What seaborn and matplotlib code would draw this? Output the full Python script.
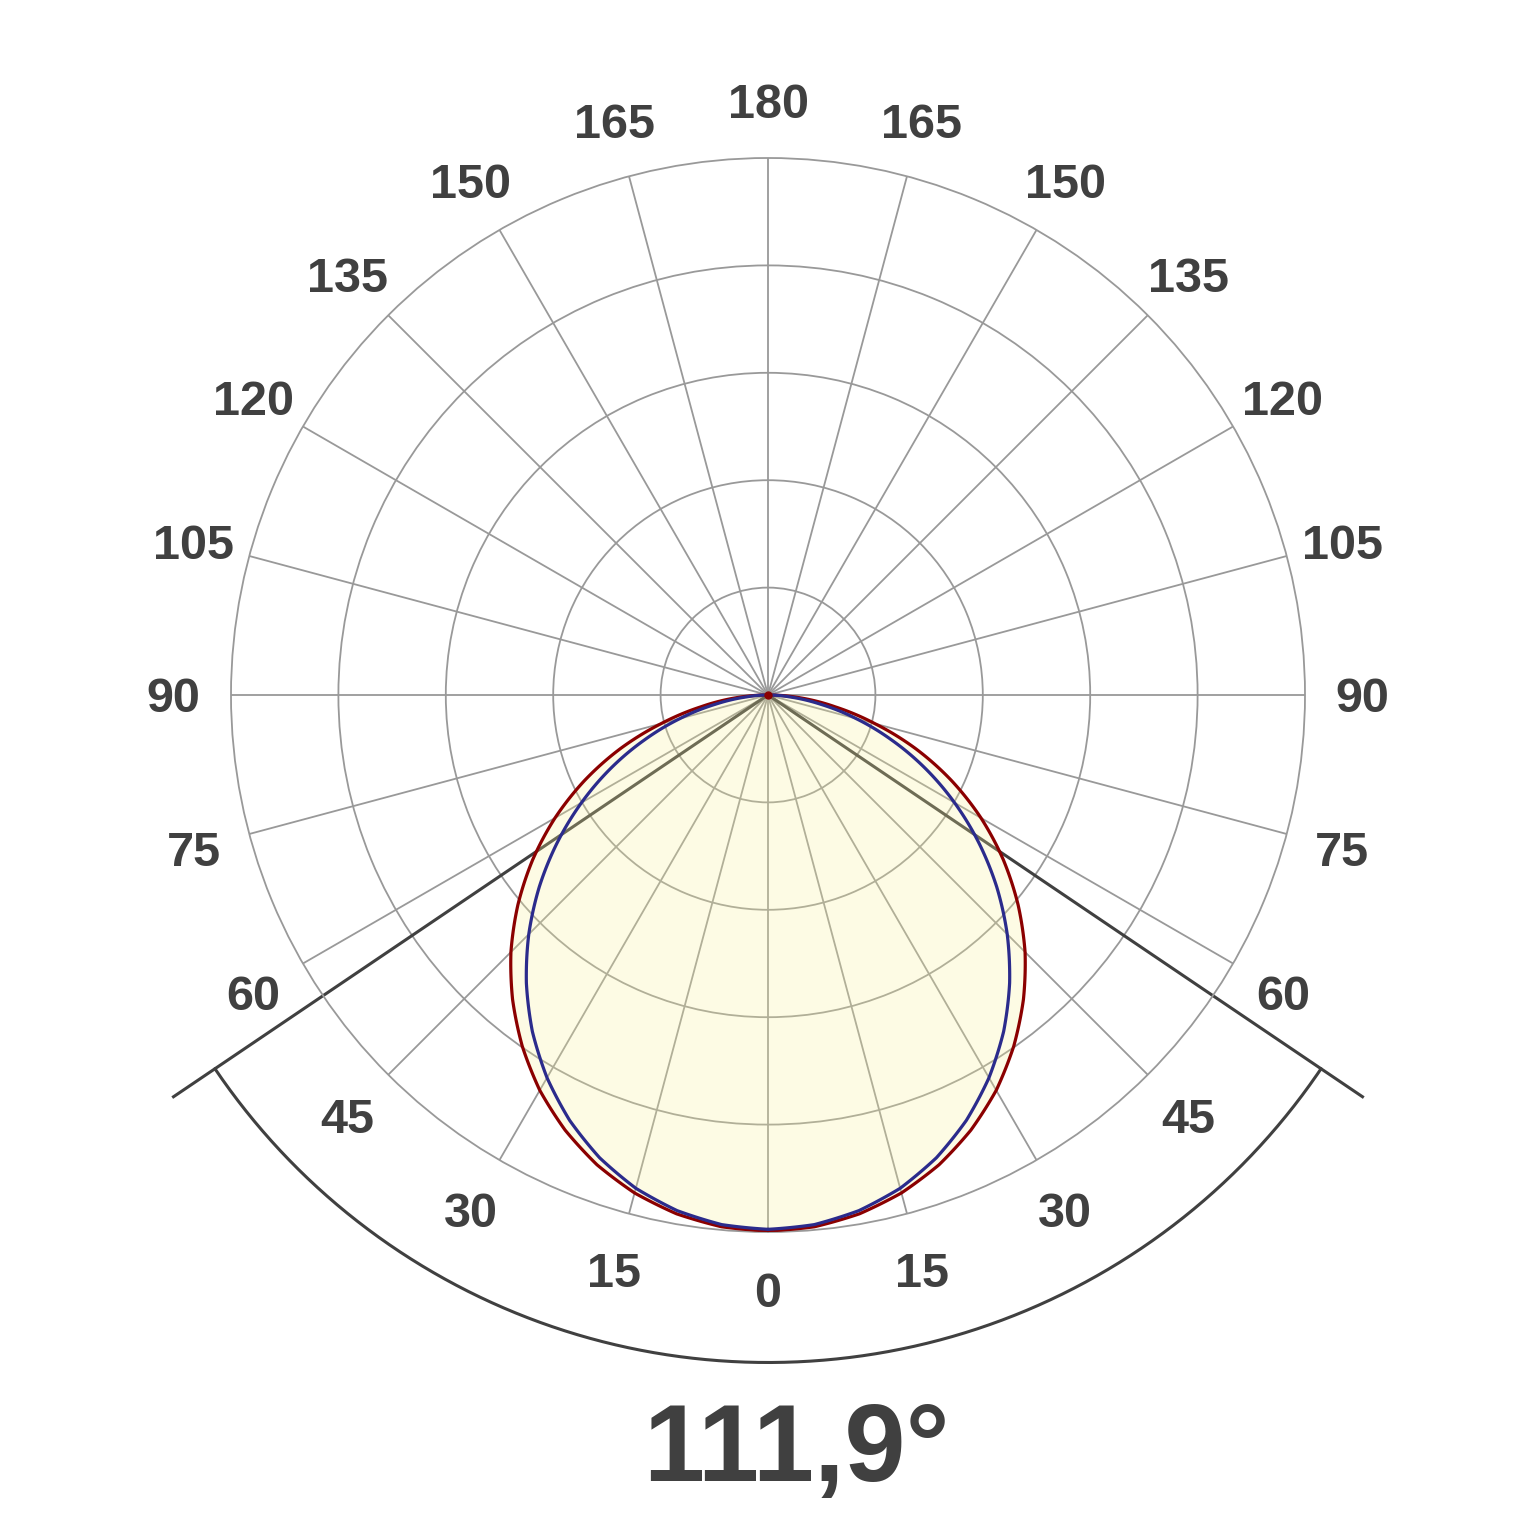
import numpy as np
import pandas as pd
import seaborn as sns
import matplotlib
matplotlib.use("Agg")
import matplotlib.pyplot as plt
from matplotlib.transforms import ScaledTranslation

# half curve (0 = straight down), mirrored for the other side
angulos = [0, 5, 10, 15, 20, 25, 30, 35, 40, 45, 50, 55, 60, 65, 70, 75, 80, 85, 90]
curva_vermelha = [0.998, 0.994, 0.981, 0.960, 0.931, 0.894, 0.850, 0.798, 0.740, 0.677,
                  0.608, 0.535, 0.458, 0.377, 0.293, 0.206, 0.127, 0.060, 0.0]
curva_azul = [0.995, 0.990, 0.975, 0.951, 0.917, 0.874, 0.823, 0.765, 0.700, 0.630,
              0.556, 0.479, 0.401, 0.323, 0.245, 0.170, 0.100, 0.040, 0.0]
angulo_feixe = 111.9
rotulos_graus = [0, 15, 30, 45, 60, 75, 90, 105, 120, 135, 150, 165, 180]
aneis = [0.2, 0.4, 0.6, 0.8, 1.0]

cinza_txt = "#404040"

ang = np.array(angulos, dtype=float)
theta_full = np.deg2rad(np.concatenate([ang, 360 - ang[::-1]]))
df = pd.DataFrame({
    "theta": theta_full,
    "vermelha": np.concatenate([curva_vermelha, curva_vermelha[::-1]]),
    "azul": np.concatenate([curva_azul, curva_azul[::-1]]),
})

sns.set_theme(style="white")
plt.rcParams["font.family"] = ["Liberation Sans", "DejaVu Sans"]

fig = plt.figure(figsize=(15.36, 15.36), dpi=100)
R = 537 / 1536
ax = fig.add_axes([0.5 - R, (1 - 695 / 1536) - R, 2 * R, 2 * R], projection="polar")
ax.set_theta_zero_location("S")
ax.set_ylim(0, 1)
ax.set_axisbelow(True)

ax.set_thetagrids(np.arange(0, 360, 15), labels=[""] * 24)
ax.set_rgrids(aneis[:-1], labels=[""] * 4)
ax.grid(True, color="#999999", linewidth=1.3)
ax.spines["polar"].set_color("#999999")
ax.spines["polar"].set_linewidth(1.3)
ax.tick_params(length=0)

# angle labels (nudged down a bit so digits sit centred)
desloca = ax.transData + ScaledTranslation(0, -5 / 100, fig.dpi_scale_trans)
for g in rotulos_graus:
    for t in ({g, 360 - g} if g not in (0, 180) else {g}):
        ax.text(np.deg2rad(t), 1.107, str(g), ha="center", va="center",
                fontsize=35, fontweight="bold", color=cinza_txt, clip_on=False,
                transform=desloca)

# beam lines and arc
meio = angulo_feixe / 2
for t in (meio, 360 - meio):
    ax.plot([0, np.deg2rad(t)], [0, 1.339], color=cinza_txt, lw=2.2,
            clip_on=False, zorder=1.5, solid_capstyle="butt")
arco = np.deg2rad(np.linspace(-meio, meio, 200))
ax.plot(arco, np.full_like(arco, 1.243), color=cinza_txt, lw=2.2, clip_on=False)

# fill and curves
preench = ax.fill(df["theta"], df["vermelha"], color="#fbf396", alpha=0.25, lw=0, zorder=2)
sns.lineplot(data=df, x="theta", y="vermelha", sort=False, estimator=None,
             color="#8b0000", lw=2.3, ax=ax, zorder=3)
sns.lineplot(data=df, x="theta", y="azul", sort=False, estimator=None,
             color="#2b2b8c", lw=2.3, ax=ax, zorder=3.1)
# let the polar transform draw curved segments between the read points
for ln in ax.get_lines()[-2:]:
    ln.get_path()._interpolation_steps = 30
for p in preench:
    p.get_path()._interpolation_steps = 30
ax.plot([0], [0], "o", color="#8b0000", ms=5, zorder=4)
ax.set_xlabel("")
ax.set_ylabel("")

fig.text(796 / 1536, 1 - 1453 / 1536, f"{angulo_feixe:.1f}°".replace(".", ","),
         ha="center", va="center", fontsize=79, fontweight="bold", color=cinza_txt)

fig.savefig("out.png", dpi=100, facecolor="white")
